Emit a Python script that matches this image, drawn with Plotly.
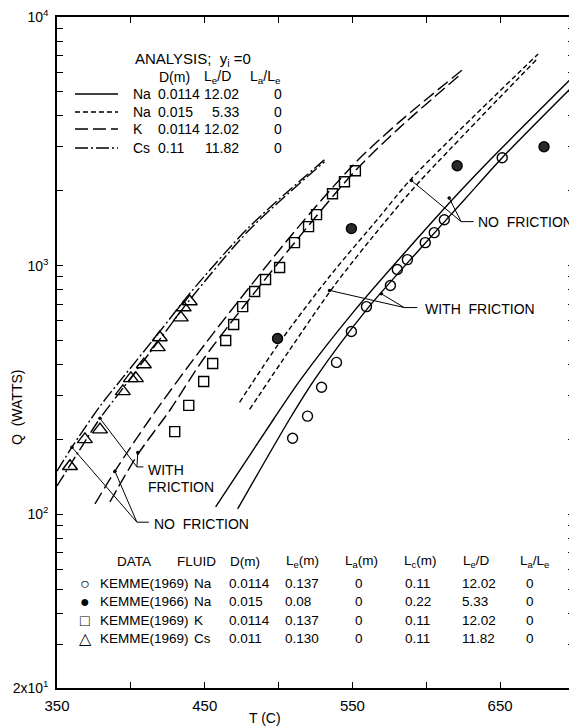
import plotly.graph_objects as go

# ---------------- analysis curves (T in C, Q in W) ----------------
T_na1_nf = [457.4, 496.6, 514.9, 551.4, 587.2, 618.2, 644.6, 700]
Q_na1_nf = [107, 241, 348, 659, 1159, 1858, 2716, 5800]
T_na1_wf = [472.3, 507.4, 524.3, 559.5, 595.3, 626.4, 651.4, 700]
Q_na1_wf = [105, 241, 348, 664, 1159, 1858, 2716, 5330]

T_na2_nf = [473.6, 500.7, 534.5, 568.2, 589.2, 675.7]
Q_na2_nf = [282, 491, 904, 1567, 2213, 7100]
T_na2_wf = [480.4, 507.4, 537.8, 571.6, 595.3, 675.7]
Q_na2_wf = [264, 457, 832, 1489, 2173, 6840]

T_k_nf = [375.7, 389.2, 412.8, 450.0, 510.8, 552.0, 581.8, 624.3]
Q_k_nf = [110, 149, 241, 482, 1371, 2594, 3785, 6120]
T_k_wf = [385.8, 404.7, 426.4, 450.0, 510.8, 552.0, 581.8, 624.3]
Q_k_wf = [112, 174, 262, 428, 1236, 2410, 3581, 5954]

T_cs_nf = [350, 360.1, 379.1, 394.6, 419.6, 439.9, 480.4, 531.1]
Q_cs_nf = [149, 186, 272, 355, 543, 773, 1436, 2666]
T_cs_wf = [350, 365.5, 379.1, 394.6, 419.6, 439.9, 480.4, 531.1]
Q_cs_wf = [130, 182, 243, 321, 505, 729, 1397, 2618]

# ---------------- experimental data ----------------
T_na69 = [509.5, 519.6, 529.1, 539.2, 549.3, 559.5, 575.7, 580.4, 587.2, 599.3, 605.4, 612.2, 651.4]
Q_na69 = [202, 248, 324, 408, 543, 684, 832, 964, 1057, 1237, 1357, 1530, 2715]

T_na66 = [499.3, 549.3, 620.9, 679.7]
Q_na66 = [509, 1409, 2520, 3007]

T_k69 = [429.7, 439.2, 449.3, 455.4, 464.2, 469.6, 475.7, 483.8, 491.2, 500.7,
         510.8, 520.3, 525.7, 536.5, 544.6, 552.0]
Q_k69 = [215, 274, 342, 404, 500, 580, 684, 787, 879, 982,
         1237, 1435, 1603, 1946, 2175, 2408]

T_cs69 = [358.8, 368.9, 379.1, 394.6, 400.0, 403.4, 408.8, 418.2, 419.6, 433.8, 435.8, 439.9]
Q_cs69 = [156, 200, 219, 312, 352, 352, 400, 469, 514, 618, 678, 717]

# ---------------- axis ticks ----------------
x_ticks = [350, 450, 550, 650]
x_labels = ["350", "450", "550", "650"]
x_minor = [400, 500, 600, 700]
y_ticks = [20, 100, 1000, 10000]
y_labels = ["2x10<sup>1</sup>", "10<sup>2</sup>", "10<sup>3</sup>", "10<sup>4</sup>"]
y_minor = [30, 40, 50, 60, 70, 80, 90,
           200, 300, 400, 500, 600, 700, 800, 900,
           2000, 3000, 4000, 5000, 6000, 7000, 8000, 9000]

# ---------------- legend / table text ----------------
ana_fluid = ["Na", "Na", "K", "Cs"]
ana_D = ["0.0114", "0.015", "0.0114", "0.11"]
ana_LeD = ["12.02", "5.33", "12.02", "11.82"]
ana_LaLe = ["0", "0", "0", "0"]

dat_sym = ["○", "●", "□", "△"]
dat_src = ["KEMME(1969)", "KEMME(1966)", "KEMME(1969)", "KEMME(1969)"]
dat_fluid = ["Na", "Na", "K", "Cs"]
dat_D = ["0.0114", "0.015", "0.0114", "0.011"]
dat_Le = ["0.137", "0.08", "0.137", "0.130"]
dat_La = ["0", "0", "0", "0"]
dat_Lc = ["0.11", "0.22", "0.11", "0.11"]
dat_LeD = ["12.02", "5.33", "12.02", "11.82"]
dat_LaLe = ["0", "0", "0", "0"]

# leader lines for callouts (T, Q)
lead_nf_upper = ([589.9, 623.6, 615.5, 623.6, 632.1], [2200, 1503, 1871, 1503, 1503])
lead_wf_right = ([534.5, 585.1, 569.6, 585.1, 593.9], [795, 678, 770, 678, 678])
lead_wf_left = ([379.1, 404.1, 404.7, 404.1, 408.5], [243, 155, 177, 155, 155])
lead_nf_left = ([360.1, 404.1, 389.2, 404.1, 412.2], [186, 92.9, 149, 92.9, 92.9])

FONT = "Liberation Sans, Arial, sans-serif"
OFF = 8                      # page body margin of the browser
W, H = 577 - OFF, 728 - OFF
ML, MR, MT, MB = 57 - OFF, 3, 17 - OFF, 40


def P(px, py):
    fx, fy = px - OFF, py - OFF
    return (fx - ML) / (W - ML - MR), (H - MB - fy) / (H - MT - MB)


fig = go.Figure()

line_w = 1.4
curves = [
    (T_na1_nf, Q_na1_nf, "solid"), (T_na1_wf, Q_na1_wf, "solid"),
    (T_na2_nf, Q_na2_nf, "5px,3px"), (T_na2_wf, Q_na2_wf, "5px,3px"),
    (T_k_nf, Q_k_nf, "13px,5px"), (T_k_wf, Q_k_wf, "13px,5px"),
    (T_cs_nf, Q_cs_nf, "13px,3px,2px,3px"), (T_cs_wf, Q_cs_wf, "13px,3px,2px,3px"),
]
for tx, qy, dash in curves:
    fig.add_trace(go.Scatter(x=tx, y=qy, mode="lines",
                             line=dict(color="black", width=line_w, dash=dash,
                                       shape="spline", smoothing=0.8),
                             showlegend=False, hoverinfo="skip"))

for lx, ly in [lead_nf_upper, lead_wf_right, lead_wf_left, lead_nf_left]:
    for a, b in [(0, 1), (2, 3), (3, 4)]:
        fig.add_trace(go.Scatter(x=[lx[a], lx[b]], y=[ly[a], ly[b]], mode="lines",
                                 line=dict(color="black", width=1),
                                 showlegend=False, hoverinfo="skip"))
    fig.add_trace(go.Scatter(x=[lx[0], lx[2]], y=[ly[0], ly[2]], mode="markers",
                             marker=dict(color="black", size=3.5),
                             showlegend=False, hoverinfo="skip"))

mk_line = dict(color="black", width=1.4)
fig.add_trace(go.Scatter(x=T_na69, y=Q_na69, mode="markers",
                         marker=dict(symbol="circle-open", size=10, color="black", line=mk_line),
                         showlegend=False))
fig.add_trace(go.Scatter(x=T_na66, y=Q_na66, mode="markers",
                         marker=dict(symbol="circle", size=10, color="#2a2a2a", line=mk_line),
                         showlegend=False))
fig.add_trace(go.Scatter(x=T_k69, y=Q_k69, mode="markers",
                         marker=dict(symbol="square-open", size=10, color="black", line=mk_line),
                         showlegend=False))
fig.add_trace(go.Scatter(x=T_cs69, y=Q_cs69, mode="markers",
                         marker=dict(symbol="triangle-up-open", size=13, color="black", line=mk_line),
                         showlegend=False))

ann = []
shapes = []


def txt(px, py, s, anchor="left", size=14):
    x, y = P(px, py)
    ann.append(dict(x=x, y=y, xref="paper", yref="paper", text=s, showarrow=False,
                    xanchor=anchor, yanchor="middle",
                    font=dict(family=FONT, size=size, color="black")))


# analysis legend (top-left)
txt(133, 59, "ANALYSIS;  y<sub>i</sub> =0", size=15)
txt(157, 77, "D(m)")
txt(202, 77, "L<sub>e</sub>/D")
txt(248, 77, "L<sub>a</sub>/L<sub>e</sub>")
row_y = [94, 112, 129, 148]
dashes = ["solid", "5px,3px", "13px,5px", "13px,3px,2px,3px"]
for i, yy in enumerate(row_y):
    x0, y0 = P(75, yy)
    x1, _ = P(118, yy)
    shapes.append(dict(type="line", xref="paper", yref="paper", x0=x0, x1=x1, y0=y0, y1=y0,
                       line=dict(color="black", width=line_w, dash=dashes[i])))
    txt(131, yy, ana_fluid[i])
    txt(156, yy, ana_D[i])
    txt(241, yy, ana_LeD[i], "right")
    txt(278, yy, ana_LaLe[i], "center")

# callout labels
txt(476, 222, "NO  FRICTION", size=14)
txt(423, 309, "WITH  FRICTION", size=14)
txt(146, 470, "WITH", size=14)
txt(146, 487, "FRICTION", size=14)
txt(152, 524, "NO  FRICTION", size=14)

# data table (bottom)
TS = 13.5
hy = 561
txt(115, hy, "DATA", size=TS)
txt(175, hy, "FLUID", size=TS)
txt(228, hy, "D(m)", size=TS)
txt(284, hy, "L<sub>e</sub>(m)", size=TS)
txt(343, hy, "L<sub>a</sub>(m)", size=TS)
txt(402, hy, "L<sub>c</sub>(m)", size=TS)
txt(461, hy, "L<sub>e</sub>/D", size=TS)
txt(518, hy, "L<sub>a</sub>/L<sub>e</sub>", size=TS)
trow_y = [583, 601, 620, 638]
for i, yy in enumerate(trow_y):
    txt(85, yy, dat_sym[i], "center", size=16)
    txt(98, yy, dat_src[i], size=TS)
    txt(192, yy, dat_fluid[i], size=TS)
    txt(227, yy, dat_D[i], size=TS)
    txt(283, yy, dat_Le[i], size=TS)
    txt(359, yy, dat_La[i], "center", size=TS)
    txt(403, yy, dat_Lc[i], size=TS)
    txt(460, yy, dat_LeD[i], size=TS)
    txt(530, yy, dat_LaLe[i], "center", size=TS)

# axis titles
tx, ty = P(265, 718)
ann.append(dict(x=tx, y=ty, xref="paper", yref="paper", text="T (C)", showarrow=False,
                xanchor="center", yanchor="middle", font=dict(family=FONT, size=14, color="black")))
qx, qy = P(17, 408)
ann.append(dict(x=qx, y=qy, xref="paper", yref="paper", text="Q  (WATTS)", showarrow=False,
                textangle=-90, xanchor="center", yanchor="middle",
                font=dict(family=FONT, size=14, color="black")))

axis_common = dict(showline=True, linecolor="black", linewidth=1.5, mirror="ticks",
                   ticks="inside", ticklen=6, tickwidth=1.2, tickcolor="black",
                   showgrid=False, zeroline=False, automargin=False,
                   ticklabeloverflow="allow")

fig.update_layout(
    width=W, height=H,
    margin=dict(l=ML, r=MR, t=MT, b=MB),
    paper_bgcolor="white", plot_bgcolor="white",
    xaxis=dict(range=[350, 700], tickmode="array", tickvals=x_ticks, ticktext=x_labels,
               ticklabelstandoff=3,
               tickfont=dict(family=FONT, size=15, color="black"),
               minor=dict(tickmode="array", tickvals=x_minor, ticks="inside", ticklen=6,
                          tickwidth=1.2, tickcolor="black", showgrid=False),
               **axis_common),
    yaxis=dict(type="log", range=[1.30103, 4], tickmode="array", tickvals=y_ticks,
               ticktext=y_labels, ticklabelstandoff=4,
               tickfont=dict(family=FONT, size=14, color="black"),
               minor=dict(tickmode="array", tickvals=y_minor, ticks="inside", ticklen=6,
                          tickwidth=1.2, tickcolor="black", showgrid=False),
               **axis_common),
    annotations=ann, shapes=shapes,
    showlegend=False,
)

fig.write_html("out.html")
